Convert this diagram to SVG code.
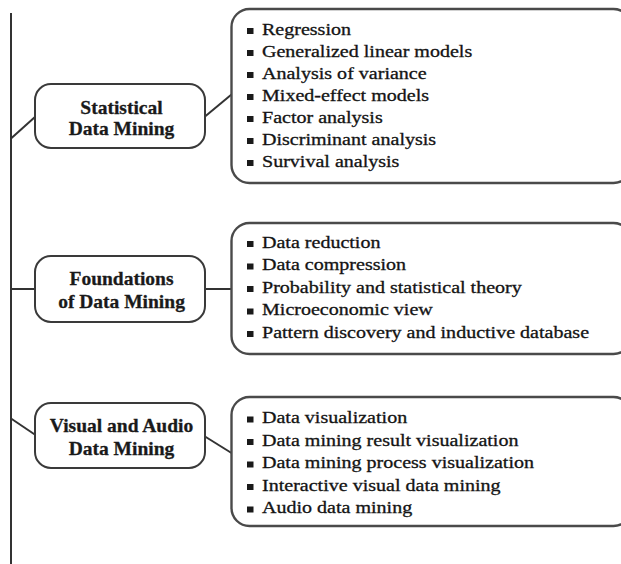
<svg xmlns="http://www.w3.org/2000/svg" width="621" height="564" viewBox="0 0 621 564">
<style>
.bg{fill:#ffffff}
.node rect.cat{fill:#ffffff;stroke:#3a3a3a;stroke-width:2}
.node rect.list{fill:#ffffff;stroke:#4a4a4a;stroke-width:2.4}
.title{font-family:"Liberation Serif","Times New Roman",serif;font-weight:bold;font-size:19.5px;fill:#1a1a1a;stroke:#1a1a1a;stroke-width:0.3;text-anchor:middle}
.item{font-family:"Liberation Serif","Times New Roman",serif;font-size:16.5px;fill:#141414;stroke:#141414;stroke-width:0.3}
.bul{fill:#1a1a1a}
.conn line{stroke:#333333;stroke-width:2;fill:none}
</style>
<rect class="bg" x="0" y="0" width="621" height="564"/>
<g id="connectors" class="conn">
<line x1="11" y1="13" x2="11" y2="564"/>
<line x1="11" y1="138.5" x2="35.5" y2="116.5"/>
<line x1="205" y1="116.5" x2="231.5" y2="94.5"/>
<line x1="11" y1="289" x2="35.5" y2="289"/>
<line x1="205" y1="289" x2="231.5" y2="289"/>
<line x1="11" y1="418.5" x2="35.5" y2="435"/>
<line x1="205" y1="436.5" x2="231.5" y2="453"/>
</g>
<g id="node-statistical" class="node">
<rect class="cat" x="35" y="84" width="170" height="64" rx="16" ry="16"/>
<text class="title" x="121.5" y="113.5">Statistical</text>
<text class="title" x="121.5" y="135">Data Mining</text>
</g>
<g id="node-foundations" class="node">
<rect class="cat" x="35" y="256" width="170" height="66" rx="16" ry="16"/>
<text class="title" x="121.5" y="285">Foundations</text>
<text class="title" x="121.5" y="307.5">of Data Mining</text>
</g>
<g id="node-visual" class="node">
<rect class="cat" x="35" y="403" width="170" height="65" rx="16" ry="16"/>
<text class="title" x="121.5" y="432">Visual and Audio</text>
<text class="title" x="121.5" y="455">Data Mining</text>
</g>
<g id="node-statistical-list" class="node">
<rect class="list" x="231.5" y="9" width="400" height="174" rx="18" ry="18"/>
<g class="bul">
<rect x="247" y="28" width="6.5" height="6"/>
<rect x="247" y="50" width="6.5" height="6"/>
<rect x="247" y="72" width="6.5" height="6"/>
<rect x="247" y="94" width="6.5" height="6"/>
<rect x="247" y="116" width="6.5" height="6"/>
<rect x="247" y="138" width="6.5" height="6"/>
<rect x="247" y="160" width="6.5" height="6"/>
</g>
<g transform="translate(262 0) scale(1.215 1)">
<text class="item" x="0" y="35">Regression</text>
<text class="item" x="0" y="57">Generalized linear models</text>
<text class="item" x="0" y="79">Analysis of variance</text>
<text class="item" x="0" y="101">Mixed-effect models</text>
<text class="item" x="0" y="123">Factor analysis</text>
<text class="item" x="0" y="145">Discriminant analysis</text>
<text class="item" x="0" y="167">Survival analysis</text>
</g>
</g>
<g id="node-foundations-list" class="node">
<rect class="list" x="231.5" y="223" width="400" height="131" rx="18" ry="18"/>
<g class="bul">
<rect x="247" y="241" width="6.5" height="6"/>
<rect x="247" y="263.5" width="6.5" height="6"/>
<rect x="247" y="286" width="6.5" height="6"/>
<rect x="247" y="308.5" width="6.5" height="6"/>
<rect x="247" y="331" width="6.5" height="6"/>
</g>
<g transform="translate(262 0) scale(1.215 1)">
<text class="item" x="0" y="248">Data reduction</text>
<text class="item" x="0" y="270.5">Data compression</text>
<text class="item" x="0" y="293">Probability and statistical theory</text>
<text class="item" x="0" y="315.5">Microeconomic view</text>
<text class="item" x="0" y="338">Pattern discovery and inductive database</text>
</g>
</g>
<g id="node-visual-list" class="node">
<rect class="list" x="231.5" y="397" width="400" height="129" rx="18" ry="18"/>
<g class="bul">
<rect x="247" y="416.5" width="6.5" height="6"/>
<rect x="247" y="439" width="6.5" height="6"/>
<rect x="247" y="461.5" width="6.5" height="6"/>
<rect x="247" y="484" width="6.5" height="6"/>
<rect x="247" y="506.5" width="6.5" height="6"/>
</g>
<g transform="translate(262 0) scale(1.215 1)">
<text class="item" x="0" y="423.5">Data visualization</text>
<text class="item" x="0" y="446">Data mining result visualization</text>
<text class="item" x="0" y="468.5">Data mining process visualization</text>
<text class="item" x="0" y="491">Interactive visual data mining</text>
<text class="item" x="0" y="513.5">Audio data mining</text>
</g>
</g>
</svg>
